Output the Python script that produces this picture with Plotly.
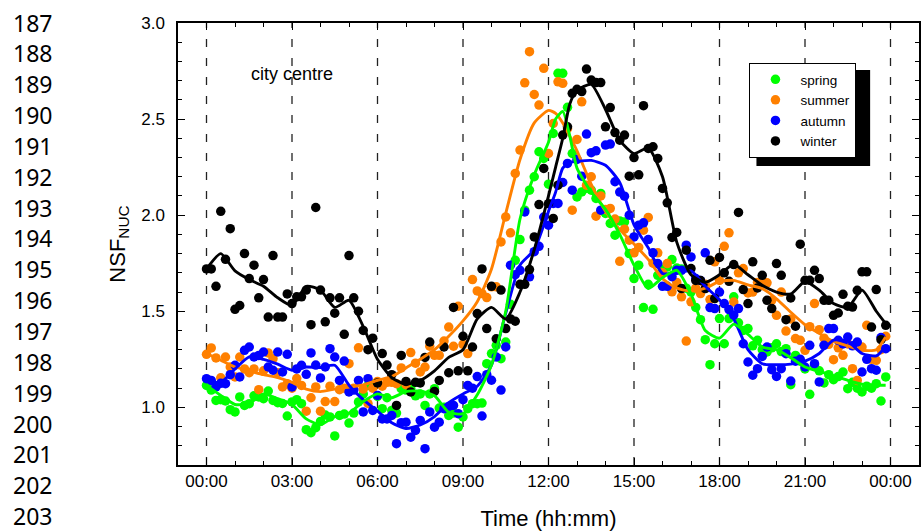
import numpy as np
import plotly.graph_objects as go

# ---------------- data ----------------
TIME_10MIN = np.arange(144) / 6.0  # hours, 10-minute resolution

SPRING = [1.114, 1.09, 1.036, 1.04, 1.033, 0.988, 0.976, 1.054, 1.01, 1.019, 1.06, 1.054,
          1.045, 1.085, 1.036, 1.024, 1.02, 0.955, 1.028, 1.04, 1.019, 0.884, 0.868, 0.894,
          0.927, 0.96, 0.95, 0.851, 0.958, 0.965, 0.918, 0.97, 1.028, 1.07, 1.114, 1.12,
          1.057, 0.993, 1.05, 0.984, 0.97, 1.097, 1.09, 1.10, 1.06, 1.07, 1.01, 1.07,
          1.097, 0.996, 1.00, 0.958, 0.97, 0.897, 0.95, 0.993, 1.019, 1.019, 1.022, 1.227,
          1.28, 1.323, 1.253, 1.34, 1.536, 1.765, 1.873, 2.026, 2.13, 2.20, 2.33, 2.295,
          2.161, 2.425, 2.738, 2.738, 2.561, 2.321, 2.095, 2.121, 2.14, 2.13, 2.087, 2.113,
          2.009, 1.957, 1.896, 1.97, 1.965, 1.80, 1.67, 1.74, 1.519, 1.64, 1.51, 1.687,
          1.72, 1.73, 1.769, 1.725, 1.72, 1.62, 1.60, 1.52, 1.456, 1.352, 1.222, 1.331,
          1.462, 1.331, 1.462, 1.575, 1.44, 1.40, 1.41, 1.32, 1.349, 1.30, 1.288, 1.31,
          1.331, 1.29, 1.305, 1.118, 1.27, 1.24, 1.20, 1.068, 1.22, 1.19, 1.127, 1.17,
          1.144, 1.16, 1.184, 1.097, 1.13, 1.10, 1.08, 1.11, 1.10, 1.123, 1.033, 1.158]

SUMMER = [1.276, 1.309, 1.257, 1.154, 1.262, 1.21, 1.158, 1.262, 1.20, 1.18, 1.20, 1.092,
          1.19, 1.283, 1.253, 1.18, 1.106, 1.123, 1.10, 1.15, 1.114, 0.98, 1.05, 1.106,
          0.98, 1.03, 1.11, 1.03, 1.092, 1.10, 1.227, 1.10, 1.31, 1.095, 1.02, 1.10,
          1.135, 1.11, 1.13, 1.13, 1.123, 1.205, 1.118, 1.285, 1.23, 1.184, 1.21, 1.318,
          1.271, 1.271, 1.345, 1.418, 1.318, 1.526, 1.328, 1.28, 1.665, 1.606, 1.592, 1.571,
          1.627, 1.627, 1.861, 1.991, 1.908, 2.217, 2.339, 2.689, 2.851, 2.628, 2.573, 2.764,
          2.321, 2.477, 2.694, 2.686, 2.45, 2.026, 2.394, 2.59, 2.156, 2.20, 1.995, 2.10,
          2.03, 2.035, 1.98, 1.76, 1.927, 1.87, 1.804, 1.832, 1.922, 1.988, 1.75, 1.804,
          1.70, 1.748, 1.601, 1.65, 1.575, 1.345, 1.549, 1.62, 1.592, 1.64, 1.561, 1.757,
          1.66, 1.838, 1.908, 1.548, 1.70, 1.722, 1.595, 1.60, 1.65, 1.644, 1.648, 1.557,
          1.479, 1.60, 1.397, 1.46, 1.358, 1.349, 1.297, 1.42, 1.54, 1.404, 1.36, 1.328,
          1.248, 1.31, 1.271, 1.33, 1.201, 1.14, 1.314, 1.427, 1.25, 1.245, 1.30, 1.37]

AUTUMN = [1.149, 1.14, 1.106, 1.125, 1.123, 1.17, 1.219, 1.158, 1.297, 1.314, 1.262, 1.27,
          1.288, 1.21, 1.193, 1.288, 1.184, 1.276, 1.106, 1.20, 1.219, 1.172, 1.283, 1.22,
          1.153, 1.21, 1.305, 1.262, 1.14, 1.241, 1.08, 1.09, 1.14, 0.976, 1.149, 0.984,
          1.062, 0.94, 0.94, 0.958, 0.811, 0.92, 0.923, 0.845, 0.88, 0.932, 0.785, 0.976,
          0.897, 0.923, 0.993, 1.005, 1.01, 0.967, 1.04, 1.114, 1.10, 1.16, 0.955, 1.17,
          1.141, 1.262, 1.09, 1.314, 1.74, 1.69, 1.713, 2.017, 1.679, 1.81, 1.838, 1.99,
          1.948, 2.061, 2.061, 2.17, 2.269, 2.13, 2.29, 2.203, 2.422, 2.325, 2.335, 2.026,
          2.365, 2.37, 2.174, 2.12, 2.099, 2.0, 1.887, 1.948, 1.96, 1.873, 1.804, 1.748,
          1.63, 1.63, 1.68, 1.713, 1.713, 1.844, 1.783, 1.67, 1.66, 1.804, 1.519, 1.514,
          1.60, 1.54, 1.509, 1.48, 1.514, 1.331, 1.236, 1.167, 1.201, 1.265, 1.314, 1.196,
          1.161, 1.201, 1.279, 1.137, 1.24, 1.25, 1.21, 1.323, 1.227, 1.132, 1.323, 1.41,
          1.41, 1.349, 1.33, 1.366, 1.32, 1.34, 1.184, 1.25, 1.201, 1.193, 1.363, 1.305]

WINTER = [1.72, 1.72, 1.63, 2.02, 1.77, 1.93, 1.51, 1.53, 1.80, 1.67, 1.74, 1.57,
          1.665, 1.47, 1.79, 1.47, 1.47, 1.59, 1.54, 1.575, 1.575, 1.61, 1.43, 2.04,
          1.61, 1.445, 1.57, 1.49, 1.57, 1.38, 1.79, 1.57, 1.50, 1.40, 1.30, 1.36,
          1.127, 1.28, 1.22, 1.17, 1.01, 1.27, 1.135, 1.08, 1.13, 1.127, 1.26, 1.34,
          1.083, 1.14, 1.314, 1.18, 1.52, 1.19, 1.37, 1.19, 1.314, 1.488, 1.72, 1.41,
          1.63, 1.357, 1.61, 1.41, 1.46, 1.448, 1.64, 1.64, 1.717, 1.887, 2.055, 2.243,
          2.06, 1.983, 2.156, 2.417, 2.46, 2.634, 2.655, 2.643, 2.76, 2.703, 2.69, 2.69,
          2.46, 2.56, 2.43, 2.39, 2.417, 2.203, 2.30, 2.21, 2.57, 2.347, 2.356, 2.295,
          2.139, 2.064, 1.884, 1.91, 1.618, 1.818, 1.722, 1.66, 1.66, 1.618, 1.765, 1.566,
          1.78, 1.70, 1.656, 1.743, 2.014, 1.613, 1.54, 1.757, 1.621, 1.687, 1.557, 1.514,
          1.748, 1.687, 1.456, 1.569, 1.422, 1.849, 1.661, 1.661, 1.713, 1.67, 1.557, 1.557,
          1.479, 1.491, 1.588, 1.526, 1.522, 1.609, 1.705, 1.705, 1.418, 1.613, 1.352, 1.427]

# smoothed curves (hours / value)
LINE_T = [0, 0.5, 1, 1.5, 2, 2.5, 3, 3.5, 4, 4.5, 5, 5.5, 6, 6.5, 7, 7.5, 8, 8.5, 9, 9.5,
          10, 10.5, 11, 11.5, 12, 12.25, 12.5, 12.75, 13, 13.5, 14, 14.5, 15, 15.5, 16, 16.5,
          17, 17.5, 18, 18.5, 19, 19.5, 20, 20.5, 21, 21.5, 22, 22.5, 23, 23.5, 23.83]

SPRING_LINE = [1.114, 1.062, 1.015, 1.02, 1.07, 1.045, 1.015, 0.94, 0.91, 0.952, 0.97, 1.03,
               1.07, 1.05, 1.082, 1.085, 1.06, 0.975, 0.967, 1.065, 1.22, 1.50, 1.98, 2.21,
               2.38, 2.50, 2.54, 2.41, 2.245, 2.12, 2.03, 1.90, 1.74, 1.618, 1.675, 1.713,
               1.59, 1.40, 1.36, 1.433, 1.38, 1.314, 1.30, 1.258, 1.21, 1.187, 1.165, 1.14,
               1.12, 1.115, 1.115]
SUMMER_LINE = [1.28, 1.245, 1.21, 1.19, 1.17, 1.155, 1.13, 1.095, 1.082, 1.095, 1.105, 1.117,
               1.141, 1.16, 1.205, 1.25, 1.30, 1.37, 1.45, 1.55, 1.72, 2.01, 2.29, 2.48,
               2.545, 2.53, 2.48, 2.41, 2.335, 2.16, 2.02, 1.925, 1.85, 1.77, 1.67, 1.62,
               1.605, 1.62, 1.655, 1.661, 1.637, 1.618, 1.565, 1.495, 1.43, 1.385, 1.343, 1.32,
               1.297, 1.30, 1.366]
AUTUMN_LINE = [1.14, 1.13, 1.20, 1.263, 1.25, 1.225, 1.193, 1.21, 1.207, 1.219, 1.115, 1.04,
               0.98, 0.92, 0.89, 0.908, 0.952, 1.025, 1.07, 1.11, 1.22, 1.49, 1.74, 1.82,
               2.02, 2.12, 2.245, 2.275, 2.28, 2.285, 2.26, 2.17, 1.95, 1.83, 1.697, 1.70,
               1.71, 1.63, 1.56, 1.46, 1.30, 1.227, 1.222, 1.225, 1.24, 1.28, 1.35, 1.343,
               1.28, 1.268, 1.314]
WINTER_LINE = [1.72, 1.80, 1.71, 1.665, 1.63, 1.57, 1.53, 1.63, 1.61, 1.52, 1.557, 1.42,
               1.25, 1.155, 1.12, 1.14, 1.19, 1.26, 1.30, 1.46, 1.52, 1.46, 1.60, 1.82,
               2.10, 2.25, 2.40, 2.58, 2.65, 2.68, 2.55, 2.39, 2.32, 2.35, 2.20, 1.86,
               1.69, 1.65, 1.69, 1.745, 1.69, 1.635, 1.60, 1.59, 1.655, 1.61, 1.54, 1.52,
               1.61, 1.50, 1.436]

SEASONS = ["spring", "summer", "autumn", "winter"]
COLORS = {"spring": "#00FF00", "summer": "#FF8000", "autumn": "#0000FF", "winter": "#000000"}
DOTS = {"spring": SPRING, "summer": SUMMER, "autumn": AUTUMN, "winter": WINTER}
LINES = {"spring": SPRING_LINE, "summer": SUMMER_LINE, "autumn": AUTUMN_LINE, "winter": WINTER_LINE}

TICK_VALS = [0, 3, 6, 9, 12, 15, 18, 21, 24]
TICK_TEXT = ["00:00", "03:00", "06:00", "09:00", "12:00", "15:00", "18:00", "21:00", "00:00"]
LINE_NUMBERS = list(range(187, 204))

# ---------------- layout geometry (px) ----------------
W, H = 922, 531
ML, MR, MT, MB = 178, 1, 23, 66
PW, PH = W - ML - MR, H - MT - MB


def px_x(px):
    return (px - ML) / PW


def px_y(py):
    return (H - MB - py) / PH


FONT = "Liberation Sans, Arial, sans-serif"

fig = go.Figure()

for s in SEASONS:
    fig.add_trace(go.Scatter(
        x=TIME_10MIN, y=DOTS[s], mode="markers", name=s,
        marker=dict(color=COLORS[s], size=9.5, line=dict(width=0)),
    ))

for s in ["summer", "autumn", "spring", "winter"]:
    fig.add_trace(go.Scatter(
        x=LINE_T, y=LINES[s], mode="lines", showlegend=False,
        line=dict(color=COLORS[s], width=2.9, shape="spline", smoothing=0.6),
        hoverinfo="skip",
    ))

# vertical dashed guide lines
for v in TICK_VALS:
    fig.add_shape(type="line", xref="x", yref="paper", x0=v, x1=v, y0=0, y1=1,
                  line=dict(color="#222222", width=1.3, dash="8px,11px"), layer="below")

# legend shadow (offset box behind the legend)
fig.add_shape(type="rect", xref="paper", yref="paper",
              x0=px_x(758), x1=px_x(872), y0=px_y(166), y1=px_y(70),
              fillcolor="black", line=dict(width=0), layer="above")

annotations = [dict(text="city centre", x=3.0, y=2.735, xref="x", yref="y", showarrow=False,
                    font=dict(family=FONT, size=18, color="black"))]
for i, n in enumerate(LINE_NUMBERS):
    annotations.append(dict(text=str(n), x=px_x(11), y=px_y(22.5 + i * 30.85),
                            xref="paper", yref="paper", xanchor="left", yanchor="middle",
                            showarrow=False,
                            font=dict(family="Noto Sans, Open Sans, sans-serif", size=23, color="black")))

fig.update_layout(
    width=W, height=H,
    margin=dict(l=ML, r=MR, t=MT, b=MB),
    paper_bgcolor="white", plot_bgcolor="white",
    font=dict(family=FONT, color="black"),
    showlegend=True,
    legend=dict(x=px_x(751), y=px_y(63), xanchor="left", yanchor="top",
                bgcolor="white", bordercolor="black", borderwidth=1,
                font=dict(family=FONT, size=13.5, color="black"),
                itemwidth=40, entrywidth=66, tracegroupgap=0),
    annotations=annotations,
    xaxis=dict(range=[-1, 25], tickvals=TICK_VALS, ticktext=TICK_TEXT,
               showgrid=False, zeroline=False, showline=True, linecolor="black", linewidth=1.5,
               mirror="ticks", ticks="inside", ticklen=7, tickwidth=1.2, tickcolor="black",
               minor=dict(dtick=1, tick0=0, ticks="inside", ticklen=4, tickwidth=1.2, tickcolor="black"),
               tickfont=dict(family=FONT, size=17, color="black"), ticklabelstandoff=0,
               title=dict(text="Time (hh:mm)", font=dict(family=FONT, size=22, color="black"), standoff=20)),
    yaxis=dict(range=[0.7, 3.0], tick0=1.0, dtick=0.5, tickformat=".1f",
               showgrid=False, zeroline=False, showline=True, linecolor="black", linewidth=1.5,
               mirror="ticks", ticks="inside", ticklen=7, tickwidth=1.2, tickcolor="black",
               minor=dict(dtick=0.1, tick0=0.0, ticks="inside", ticklen=4, tickwidth=1.2, tickcolor="black"),
               tickfont=dict(family=FONT, size=17, color="black"), ticklabelstandoff=8,
               title=dict(text="NSF<sub>NUC</sub>", font=dict(family=FONT, size=22, color="black"), standoff=10)),
)

fig.write_html("out.html")
